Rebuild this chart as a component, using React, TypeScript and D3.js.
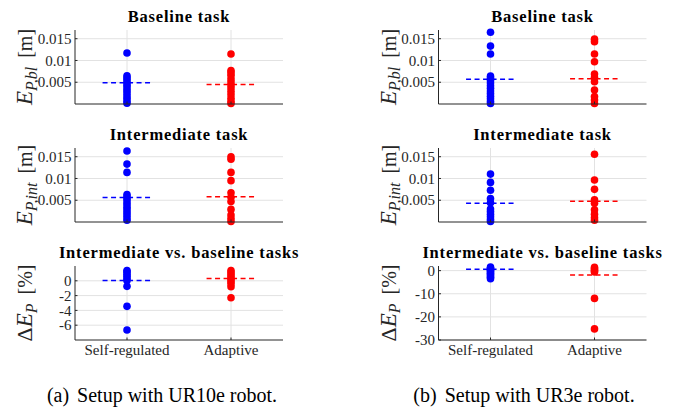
import React from "react";
import * as d3 from "d3";

// ---------- data ----------
const categories = ["Self-regulated", "Adaptive"];

// (a) UR10e
const ur10eBaselineSelf = [0.0117, 0.0065, 0.006, 0.0055, 0.0049, 0.0043, 0.0037, 0.0031, 0.0025, 0.0019, 0.0013, 0.0007, 0.0002];
const ur10eBaselineAdaptive = [0.0115, 0.0077, 0.0072, 0.0066, 0.0058, 0.0051, 0.0044, 0.0037, 0.0029, 0.0021, 0.0013, 0.0006, 0.0001];
const ur10eIntermediateSelf = [0.0163, 0.0133, 0.0114, 0.0063, 0.0058, 0.0052, 0.0046, 0.004, 0.0034, 0.0028, 0.0022, 0.0016, 0.001, 0.0004];
const ur10eIntermediateAdaptive = [0.015, 0.0144, 0.0114, 0.0095, 0.0067, 0.0057, 0.0047, 0.0029, 0.0016, 0.0008, 0.0001];
const ur10eDeltaSelf = [1.4, 1.2, 0.9, 0.6, 0.3, 0.05, -0.75, -3.45, -6.65];
const ur10eDeltaAdaptive = [1.4, 1.1, 0.8, 0.5, 0.2, -0.1, -0.4, -0.8, -2.3];
const ur10eMeans = { baseline: [0.0049, 0.0045], intermediate: [0.0056, 0.0058], delta: [0.05, 0.3] };

// (b) UR3e
const ur3eBaselineSelf = [0.0165, 0.0133, 0.0115, 0.0064, 0.0059, 0.0054, 0.0048, 0.0042, 0.0036, 0.003, 0.0024, 0.0018, 0.0012, 0.0006, 0.0001];
const ur3eBaselineAdaptive = [0.0149, 0.0143, 0.0115, 0.0097, 0.0069, 0.0061, 0.0051, 0.0032, 0.0017, 0.0009, 0.0001];
const ur3eIntermediateSelf = [0.011, 0.0091, 0.0073, 0.0054, 0.0044, 0.003, 0.0024, 0.0018, 0.0012, 0.0006, 0.0001];
const ur3eIntermediateAdaptive = [0.01555, 0.00965, 0.0075, 0.0051, 0.0043, 0.0028, 0.0018, 0.001, 0.0004];
const ur3eDeltaSelf = [1.5, 1.1, 0.7, 0.3, -0.1, -0.6, -1.1, -1.7, -2.3, -2.9, -3.5];
const ur3eDeltaAdaptive = [1.4, 0.8, 0.3, -0.2, -0.6, -12.0, -25.2];
const ur3eMeans = { baseline: [0.0057, 0.0058], intermediate: [0.0043, 0.00475], delta: [0.6, -1.9] };

const errorTicks = [0.005, 0.01, 0.015];
const errorTickLabels = ["0.005", "0.01", "0.015"];
const deltaTicksA = [-6, -4, -2, 0];
const deltaTicksB = [-30, -20, -10, 0];
const titles = ["Baseline task", "Intermediate task", "Intermediate vs. baseline tasks"];
const captionTags = ["(a)", "(b)"];
const captionTexts = ["Setup with UR10e robot.", "Setup with UR3e robot."];

// ---------- styling ----------
const FONT = "Liberation Serif";
const BLUE = "#0000ff";
const RED = "#ff0000";
const AXIS = "#262626";
const GRID = "#e2e2e2";

type YLabel = { pre?: string; main: string; sub: string; unit: string };

interface PanelProps {
  x0: number;
  x1: number;
  top: number;
  bottom: number;
  domain: [number, number];
  ticks: number[];
  tickLabels: string[];
  title: string;
  ylabel: YLabel;
  labelX: number;
  self: number[];
  adaptive: number[];
  means: number[];
  showX: boolean;
}

const ff = { fontFamily: FONT };

function Panel(p: PanelProps) {
  const x = d3.scaleLinear().domain([0.5, 2.5]).range([p.x0, p.x1]);
  const y = d3.scaleLinear().domain(p.domain).range([p.bottom, p.top]);
  const cx = (p.x0 + p.x1) / 2;
  const cy = (p.top + p.bottom) / 2;
  const series = [p.self, p.adaptive];
  const colors = [BLUE, RED];
  return (
    <g>
      {p.ticks.map((t) => (
        <line key={"g" + t} x1={p.x0} x2={p.x1} y1={y(t)} y2={y(t)} stroke={GRID} strokeWidth={1} />
      ))}
      {categories.map((c, i) => (
        <line key={"v" + c} x1={x(i + 1)} x2={x(i + 1)} y1={p.top} y2={p.bottom} stroke={GRID} strokeWidth={1} />
      ))}
      {series.map((s, i) =>
        s.map((v, j) => <circle key={i + "-" + j} cx={x(i + 1)} cy={y(v)} r={3.8} fill={colors[i]} />)
      )}
      {p.means.map((m, i) => (
        <line
          key={"m" + i}
          x1={x(i + 1 - 0.235)}
          x2={x(i + 1 + 0.235)}
          y1={y(m)}
          y2={y(m)}
          stroke={colors[i]}
          strokeWidth={1.5}
          strokeDasharray="5,3.5"
        />
      ))}
      <line x1={p.x0} x2={p.x0} y1={p.top} y2={p.bottom} stroke={AXIS} strokeWidth={1} />
      <line x1={p.x0} x2={p.x1} y1={p.bottom} y2={p.bottom} stroke={AXIS} strokeWidth={1} />
      {p.ticks.map((t, i) => (
        <g key={"t" + t}>
          <line x1={p.x0} x2={p.x0 + 2.5} y1={y(t)} y2={y(t)} stroke={AXIS} strokeWidth={1} />
          <text x={p.x0 - 3.5} y={y(t)} dy="0.34em" textAnchor="end" style={ff} fontSize={15} fill={AXIS}>
            {p.tickLabels[i]}
          </text>
        </g>
      ))}
      {categories.map((c, i) => (
        <g key={"xt" + c}>
          <line x1={x(i + 1)} x2={x(i + 1)} y1={p.bottom} y2={p.bottom - 2.5} stroke={AXIS} strokeWidth={1} />
          {p.showX && (
            <text x={x(i + 1)} y={p.bottom + 15} textAnchor="middle" style={ff} fontSize={15} fill={AXIS}>
              {c}
            </text>
          )}
        </g>
      ))}
      <text x={cx} y={p.top - 8.3} textAnchor="middle" style={ff} fontWeight="bold" fontSize={16.5} letterSpacing={0.8} fill="#000">
        {p.title}
      </text>
      <text transform={`translate(${p.labelX},${cy}) rotate(-90)`} textAnchor="middle" style={ff} fill={AXIS}>
        {p.ylabel.pre && <tspan fontSize={22}>{p.ylabel.pre}</tspan>}
        <tspan fontSize={23} fontStyle="italic">
          {p.ylabel.main}
        </tspan>
        <tspan fontSize={16} fontStyle="italic" dy={4.5}>
          {p.ylabel.sub}
        </tspan>
        <tspan fontSize={20} dy={-4.5}>
          {"\u2009 " + p.ylabel.unit}
        </tspan>
      </text>
    </g>
  );
}

export default function App() {
  const W = 677;
  const H = 408;
  const rows = [
    { top: 30, bottom: 104 },
    { top: 148, bottom: 222 },
    { top: 266, bottom: 340 },
  ];
  const cols = [
    { x0: 75, x1: 283, labelX: 32, data: [
      [ur10eBaselineSelf, ur10eBaselineAdaptive, ur10eMeans.baseline],
      [ur10eIntermediateSelf, ur10eIntermediateAdaptive, ur10eMeans.intermediate],
      [ur10eDeltaSelf, ur10eDeltaAdaptive, ur10eMeans.delta],
    ], deltaDomain: [-8, 2] as [number, number], deltaTicks: deltaTicksA, capX: 162 },
    { x0: 438.5, x1: 646.5, labelX: 395.5, data: [
      [ur3eBaselineSelf, ur3eBaselineAdaptive, ur3eMeans.baseline],
      [ur3eIntermediateSelf, ur3eIntermediateAdaptive, ur3eMeans.intermediate],
      [ur3eDeltaSelf, ur3eDeltaAdaptive, ur3eMeans.delta],
    ], deltaDomain: [-30, 2] as [number, number], deltaTicks: deltaTicksB, capX: 524 },
  ];
  const ylabels: YLabel[] = [
    { main: "E", sub: "P,bl", unit: "[m]" },
    { main: "E", sub: "P,int", unit: "[m]" },
    { pre: "\u0394", main: "E", sub: "P", unit: "[%]" },
  ];
  return (
    <svg width={W} height={H} style={{ position: "absolute", left: 0, top: 0, background: "#fff" }}>
      <rect x={0} y={0} width={W} height={H} fill="#fff" />
      {cols.map((c, ci) => (
        <g key={ci}>
          {rows.map((r, ri) => {
            const isDelta = ri === 2;
            return (
              <Panel
                key={ri}
                x0={c.x0}
                x1={c.x1}
                top={r.top}
                bottom={r.bottom}
                domain={isDelta ? c.deltaDomain : [0, 0.017]}
                ticks={isDelta ? c.deltaTicks : errorTicks}
                tickLabels={isDelta ? c.deltaTicks.map((t) => String(t)) : errorTickLabels}
                title={titles[ri]}
                ylabel={ylabels[ri]}
                labelX={c.labelX}
                self={c.data[ri][0]}
                adaptive={c.data[ri][1]}
                means={c.data[ri][2]}
                showX={isDelta}
              />
            );
          })}
          <text x={c.capX} y={402} textAnchor="middle" style={ff} fontSize={20} fill="#000">
            <tspan>{captionTags[ci]}</tspan>
            <tspan dx={3}>{" " + captionTexts[ci]}</tspan>
          </text>
        </g>
      ))}
    </svg>
  );
}
